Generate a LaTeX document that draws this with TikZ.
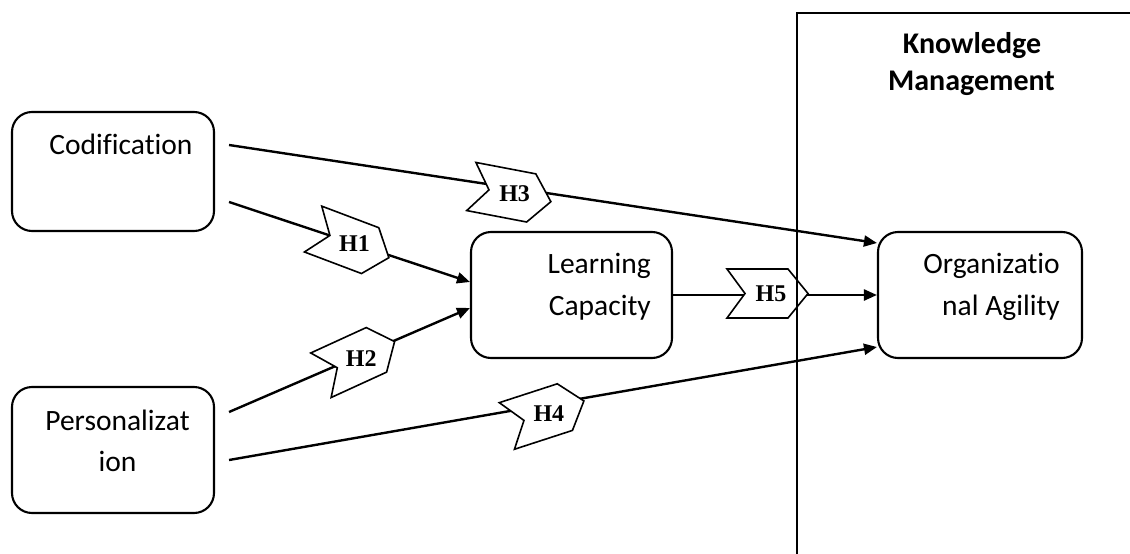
\documentclass[tikz,border=0pt]{standalone}
\usepackage{fontspec}
\setmainfont{Carlito}[Ligatures=NoCommon]
\newfontfamily\hfont{Liberation Serif}
\usetikzlibrary{arrows.meta,calc}
\newcommand{\hchev}[5]{%
  \draw[chevron, shift={(#2,#3)}, rotate=#4] (-40,-24.5) -- (21,-24.5) -- (41,0) -- (21,24.5) -- (-40,24.5) -- (-22,0) -- cycle;
  \node[hlabel] (#1) at (#2+4,#3) {#5};}
\begin{document}
\begin{tikzpicture}[x=1pt,y=-1pt,
  box/.style={draw, line width=2.1pt, rounded corners=20pt, inner sep=0pt},
  txt/.style={inner sep=0pt, font=\fontsize{29.5}{42}\selectfont},
  kmtxt/.style={inner sep=0pt, font=\fontsize{30}{42}\selectfont\bfseries},
  link/.style={line width=2.4pt, -{Triangle[length=13pt,width=11pt]}},
  chevron/.style={draw, fill=white, line width=1.6pt, line join=miter},
  hlabel/.style={inner sep=0pt, font=\fontsize{24}{26}\selectfont\hfont\bfseries},
  frame/.style={line width=2.3pt}]
\useasboundingbox (0,0) rectangle (1130,554);
% boxes
\node[box, minimum width=202pt, minimum height=119pt] (cod) at (113,171.5) {};
\node[box, minimum width=202pt, minimum height=126pt] (per) at (113,450) {};
\node[box, minimum width=201pt, minimum height=126pt] (lc) at (571.5,295) {};
\node[box, minimum width=204pt, minimum height=126pt] (oa) at (980,295) {};
% box texts
\node[txt, anchor=base] (codt) at (121,154) {Codification};
\node[txt, anchor=base] (pert1) at (117.5,430) {Personalizat};
\node[txt, anchor=base] (pert2) at (117.5,471) {ion};
\node[txt, anchor=base east] (lct1) at (651,273) {Learning};
\node[txt, anchor=base east] (lct2) at (651,315) {Capacity};
\node[txt, anchor=base east] (oat1) at (1060,273) {Organizatio};
\node[txt, anchor=base east] (oat2) at (1060,315) {nal Agility};
% connectors
\draw[link] ($(cod.east)+(14,-26.5)$) -- ($(oa.west)+(0,-52)$);
\draw[link] ($(cod.east)+(14,30.5)$) -- ($(lc.west)+(0,-13)$);
\draw[link] ($(per.east)+(14,-38)$) -- ($(lc.west)+(0,13)$);
\draw[link] ($(per.east)+(14,10)$) -- ($(oa.west)+(0,52)$);
\draw[link] (lc.east) -- (oa.west);
% hypothesis chevrons
\hchev{h1}{350.5}{243.2}{-20.7}{H1}
\hchev{h2}{357.3}{358.6}{24.6}{H2}
\hchev{h3}{510.6}{194}{-10.8}{H3}
\hchev{h4}{544.9}{413.6}{18}{H4}
\hchev{h5}{767}{293.5}{0}{H5}
% knowledge management frame
\draw[frame] (1130,13) -- (797,13) -- (797,554);
\node[kmtxt, anchor=base] (km1) at (972,53) {Knowledge};
\node[kmtxt, anchor=base] (km2) at (971.5,90) {Management};
\end{tikzpicture}
\end{document}
